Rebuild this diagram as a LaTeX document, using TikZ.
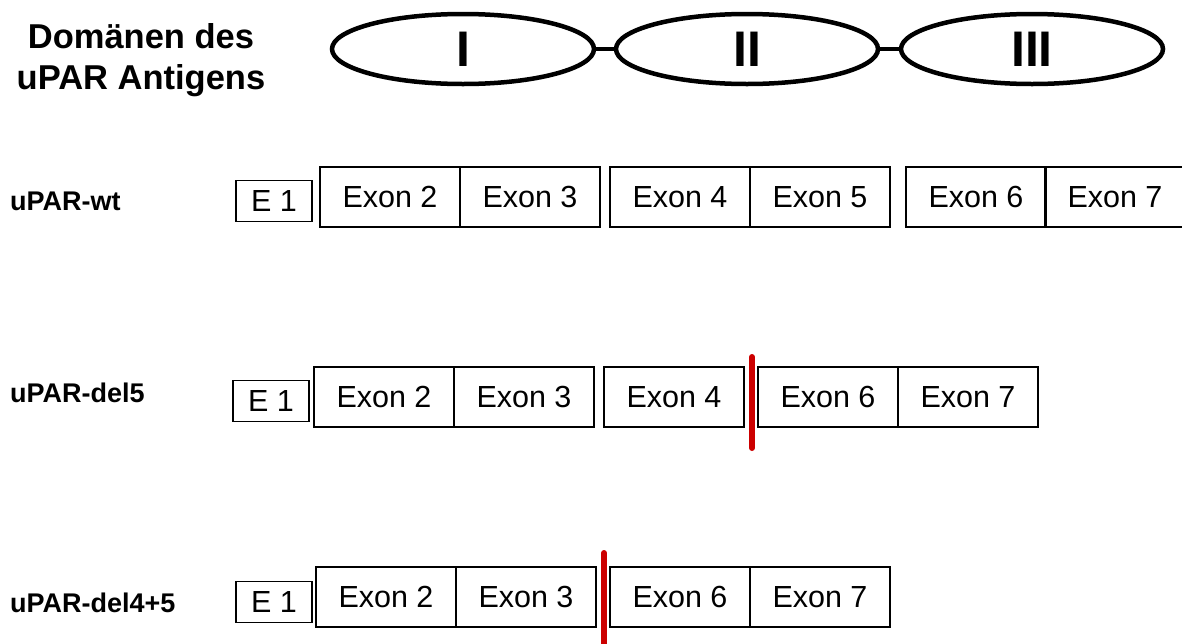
\documentclass[tikz,border=0pt]{standalone}
\usepackage{fontspec}
\setmainfont{Liberation Sans}
\usetikzlibrary{shapes.geometric}
\definecolor{delred}{RGB}{204,0,0}
\begin{document}
\begin{tikzpicture}[x=1pt,y=-1pt,
  exon/.style={draw, line width=1.2pt, inner sep=0pt, minimum width=140pt, minimum height=60pt, font=\fontsize{30.5}{32}\selectfont},
  eone/.style={draw, line width=1.2pt, inner sep=0pt, minimum width=76pt, minimum height=41pt, font=\fontsize{30.5}{32}\selectfont},
  dom/.style={draw, ellipse, line width=4.5pt, inner sep=0pt, minimum width=262pt, minimum height=70pt, font=\bfseries\fontsize{50}{54}\selectfont},
  link/.style={line width=4pt},
  rowlabel/.style={anchor=west, inner sep=0pt, font=\bfseries\fontsize{27}{30}\selectfont},
  cut/.style={line width=6pt, delred, line cap=round}]
\useasboundingbox (0,0) rectangle (1182,643);
% title
\node[align=center, inner sep=0pt, font=\bfseries\fontsize{34.5}{41}\selectfont] (title) at (141,60) {Domänen des\\uPAR Antigens};
% domains
\node[dom] (d1) at (463,49) {I};
\node[dom] (d2) at (747,49) {II};
\node[dom] (d3) at (1032,49) {III};
\draw[link] (d1.east) -- (d2.west);
\draw[link] (d2.east) -- (d3.west);
% row 1
\node[rowlabel] (l1) at (10,201) {uPAR-wt};
\node[eone] (a1) at (274,201) {E 1};
\node[exon] (a2) at (390,197) {Exon 2};
\node[exon] (a3) at (530,197) {Exon 3};
\node[exon] (a4) at (680,197) {Exon 4};
\node[exon] (a5) at (820,197) {Exon 5};
\node[exon] (a6) at (976,197) {Exon 6};
\node[exon] (a7) at (1115,197) {Exon 7};
% row 2
\node[rowlabel] (l2) at (10,393) {uPAR-del5};
\node[eone] (b1) at (271,401) {E 1};
\node[exon] (b2) at (384,397) {Exon 2};
\node[exon] (b3) at (524,397) {Exon 3};
\node[exon] (b4) at (674,397) {Exon 4};
\node[exon] (b6) at (828,397) {Exon 6};
\node[exon] (b7) at (968,397) {Exon 7};
\coordinate (c1t) at (752,357);
\coordinate (c1b) at (752,448);
\draw[cut] (c1t) -- (c1b);
% row 3
\node[rowlabel] (l3) at (10,603) {uPAR-del4+5};
\node[eone] (e1) at (274,602) {E 1};
\node[exon] (e2) at (386,597) {Exon 2};
\node[exon] (e3) at (526,597) {Exon 3};
\node[exon] (e6) at (680,597) {Exon 6};
\node[exon] (e7) at (820,597) {Exon 7};
\coordinate (c2t) at (604,553);
\coordinate (c2b) at (604,650);
\draw[cut] (c2t) -- (c2b);
\end{tikzpicture}
\end{document}
